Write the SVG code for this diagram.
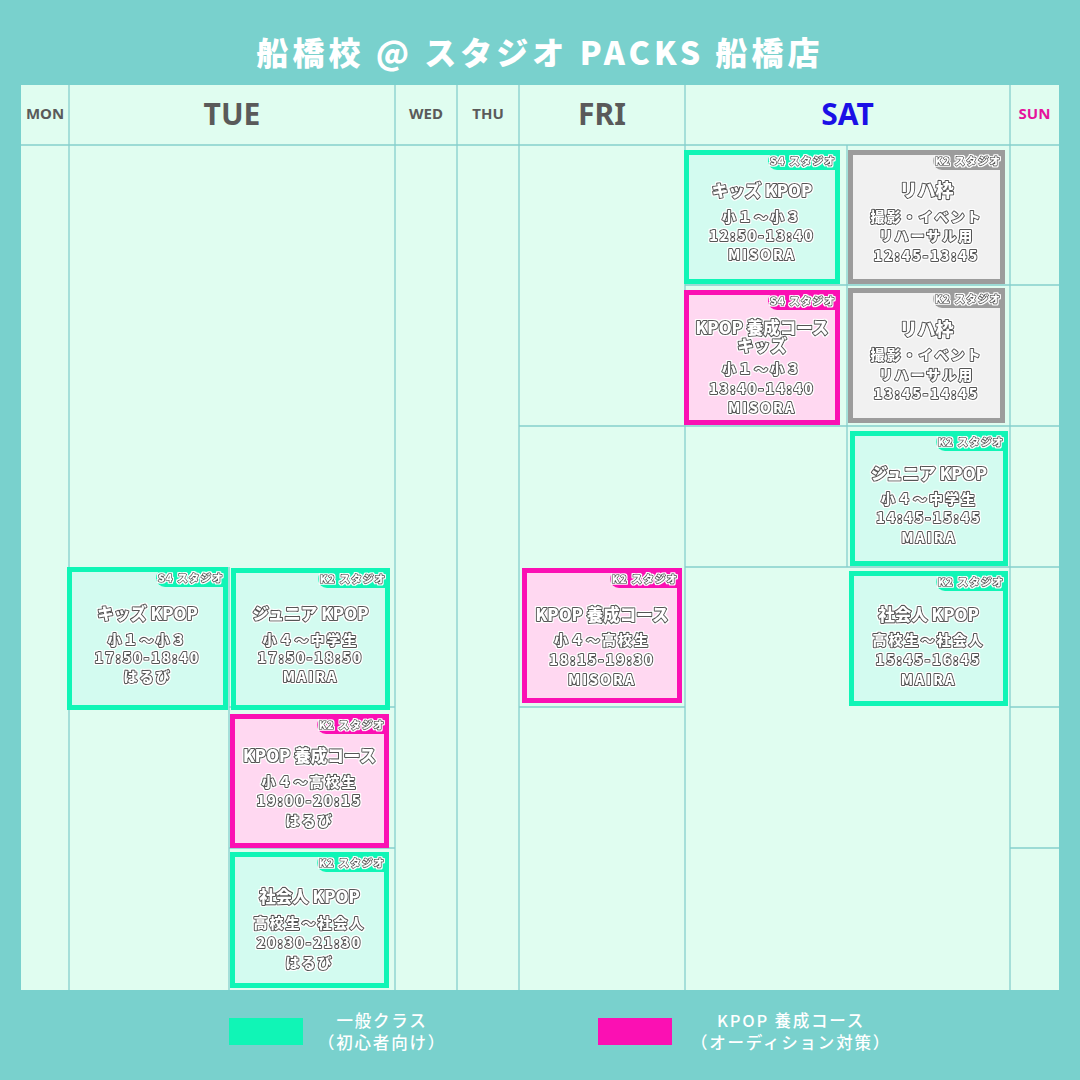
<svg xmlns="http://www.w3.org/2000/svg" width="1080" height="1080" viewBox="0 0 1080 1080">
<defs>
<style>
.bg{fill:#79d1cd}
.tbl{fill:#e0fdf0}
.grid{stroke:#86cfcc;stroke-width:1.3;fill:none}
.cg{fill:#d3fbf0;stroke:#10f5b6;stroke-width:5}
.cp{fill:#ffd8f1;stroke:#fb10b3;stroke-width:5}
.cr{fill:#f1f1f1;stroke:#9c9c9c;stroke-width:5}
.tgg{fill:#10f5b6}
.tgp{fill:#fb10b3}
.tgr{fill:#9c9c9c}
.title{font-family:"Noto Sans CJK JP","Noto Sans",sans-serif;font-weight:900;font-size:32px;fill:#fff;text-anchor:middle;letter-spacing:4px}
.day{font-family:"Noto Sans","Open Sans","Noto Sans CJK JP",sans-serif;font-weight:700;fill:#5a5a5a;text-anchor:middle}
.big{font-size:30px}
.sm{font-size:15px}
.txt text{font-family:"Noto Sans CJK JP","Noto Sans",sans-serif;font-weight:900;fill:#ffffff;stroke:#555555;stroke-width:2.2px;paint-order:stroke fill;stroke-linejoin:round;text-anchor:middle}
.ti{font-size:16.5px}
.ln{font-size:14px;letter-spacing:2px}
.tag{font-size:10.5px;letter-spacing:1.2px;stroke-width:1.7px !important}
.lg{font-family:"Noto Sans CJK JP","Noto Sans",sans-serif;font-weight:500;font-size:16.5px;fill:#fff;text-anchor:middle;letter-spacing:1.8px}
</style>
<filter id="halo" x="-5%" y="-20%" width="110%" height="140%">
<feMorphology in="SourceAlpha" operator="dilate" radius="1.1" result="d"/>
<feFlood flood-color="#ffffff"/>
<feComposite in2="d" operator="in" result="w"/>
<feMerge><feMergeNode in="w"/><feMergeNode in="SourceGraphic"/></feMerge>
</filter>
</defs>

<rect class="bg" x="0" y="0" width="1080" height="1080"/>
<text class="title" x="540" y="65">船橋校 @ スタジオ PACKS 船橋店</text>

<g id="table">
<rect class="tbl" x="21" y="85" width="1038" height="905"/>
</g>

<g id="grid">
<line class="grid" x1="21" y1="145" x2="1059" y2="145"/>
<line class="grid" x1="69" y1="85" x2="69" y2="990"/>
<line class="grid" x1="395" y1="85" x2="395" y2="990"/>
<line class="grid" x1="457" y1="85" x2="457" y2="990"/>
<line class="grid" x1="519" y1="85" x2="519" y2="990"/>
<line class="grid" x1="685" y1="85" x2="685" y2="990"/>
<line class="grid" x1="1010" y1="85" x2="1010" y2="990"/>
<line class="grid" x1="229" y1="567" x2="229" y2="990"/>
<line class="grid" x1="847" y1="145" x2="847" y2="567"/>
<line class="grid" x1="229" y1="707" x2="395" y2="707"/>
<line class="grid" x1="229" y1="848" x2="395" y2="848"/>
<line class="grid" x1="519" y1="426" x2="1059" y2="426"/>
<line class="grid" x1="519" y1="707" x2="685" y2="707"/>
<line class="grid" x1="685" y1="285" x2="1059" y2="285"/>
<line class="grid" x1="685" y1="567" x2="1059" y2="567"/>
<line class="grid" x1="1010" y1="707" x2="1059" y2="707"/>
<line class="grid" x1="1010" y1="848" x2="1059" y2="848"/>
</g>

<g id="days">
<text class="day sm" x="45" y="119">MON</text>
<text class="day big" x="232" y="125">TUE</text>
<text class="day sm" x="426" y="119">WED</text>
<text class="day sm" x="488" y="119">THU</text>
<text class="day big" x="602" y="125">FRI</text>
<text class="day big" x="847.5" y="125" style="fill:#1a10e6">SAT</text>
<text class="day sm" x="1034.5" y="119" style="fill:#e5139c">SUN</text>
</g>

<g id="sat-kids">
<rect class="cg" x="686.5" y="152.5" width="151" height="129"/>
<path class="tgg" d="M837,152 H777 A9 9 0 0 0 777,170 H837 Z"/>
<g class="txt" filter="url(#halo)">
<text class="tag" x="803" y="165">S4 スタジオ</text>
<text class="ti" x="762" y="197">キッズ KPOP</text>
<text class="ln" x="762" y="222">小１～小３</text>
<text class="ln" x="762" y="241">12:50-13:40</text>
<text class="ln" x="762" y="260">MISORA</text>
</g>
</g>

<g id="sat-reh1">
<rect class="cr" x="850.5" y="152.5" width="152" height="129"/>
<path class="tgr" d="M1002,152 H942 A9 9 0 0 0 942,170 H1002 Z"/>
<g class="txt" filter="url(#halo)">
<text class="tag" x="968" y="165">K2 スタジオ</text>
<text class="ti" x="926.5" y="197" style="font-size:18px">リハ枠</text>
<text class="ln" x="926.5" y="222">撮影・イベント</text>
<text class="ln" x="926.5" y="241">リハーサル用</text>
<text class="ln" x="926.5" y="261">12:45-13:45</text>
</g>
</g>

<g id="sat-kpop-kids">
<rect class="cp" x="686.5" y="292.5" width="151" height="130"/>
<path class="tgp" d="M837,292 H777 A9 9 0 0 0 777,310 H837 Z"/>
<g class="txt" filter="url(#halo)">
<text class="tag" x="803" y="305">S4 スタジオ</text>
<text class="ti" x="762" y="334">KPOP 養成コース<tspan x="762" dy="18">キッズ</tspan></text>
<text class="ln" x="762" y="374">小１～小３</text>
<text class="ln" x="762" y="394">13:40-14:40</text>
<text class="ln" x="762" y="413">MISORA</text>
</g>
</g>

<g id="sat-reh2">
<rect class="cr" x="850.5" y="290.5" width="152" height="130"/>
<path class="tgr" d="M1002,290 H942 A9 9 0 0 0 942,308 H1002 Z"/>
<g class="txt" filter="url(#halo)">
<text class="tag" x="968" y="303">K2 スタジオ</text>
<text class="ti" x="926.5" y="336" style="font-size:18px">リハ枠</text>
<text class="ln" x="926.5" y="360">撮影・イベント</text>
<text class="ln" x="926.5" y="380">リハーサル用</text>
<text class="ln" x="926.5" y="399">13:45-14:45</text>
</g>
</g>

<g id="sat-junior">
<rect class="cg" x="852.5" y="433.5" width="153" height="130"/>
<path class="tgg" d="M1005,433 H945 A9 9 0 0 0 945,451 H1005 Z"/>
<g class="txt" filter="url(#halo)">
<text class="tag" x="971" y="446">K2 スタジオ</text>
<text class="ti" x="929" y="480">ジュニア KPOP</text>
<text class="ln" x="929" y="504">小４～中学生</text>
<text class="ln" x="929" y="523">14:45-15:45</text>
<text class="ln" x="929" y="543">MAIRA</text>
</g>
</g>

<g id="sat-adult">
<rect class="cg" x="851.5" y="573.5" width="154" height="130"/>
<path class="tgg" d="M1005,573 H945 A9 9 0 0 0 945,591 H1005 Z"/>
<g class="txt" filter="url(#halo)">
<text class="tag" x="971" y="586">K2 スタジオ</text>
<text class="ti" x="928.5" y="621">社会人 KPOP</text>
<text class="ln" x="928.5" y="645">高校生～社会人</text>
<text class="ln" x="928.5" y="665">15:45-16:45</text>
<text class="ln" x="928.5" y="685">MAIRA</text>
</g>
</g>

<g id="fri-kpop">
<rect class="cp" x="524.5" y="570.5" width="155" height="130"/>
<path class="tgp" d="M679,570 H619 A9 9 0 0 0 619,588 H679 Z"/>
<g class="txt" filter="url(#halo)">
<text class="tag" x="645" y="583">K2 スタジオ</text>
<text class="ti" x="602" y="621">KPOP 養成コース</text>
<text class="ln" x="602" y="645">小４～高校生</text>
<text class="ln" x="602" y="665">18:15-19:30</text>
<text class="ln" x="602" y="685">MISORA</text>
</g>
</g>

<g id="tue-kids">
<rect class="cg" x="69.5" y="569.5" width="156" height="138"/>
<path class="tgg" d="M225,569 H165 A9 9 0 0 0 165,587 H225 Z"/>
<g class="txt" filter="url(#halo)">
<text class="tag" x="191" y="582">S4 スタジオ</text>
<text class="ti" x="147.5" y="620">キッズ KPOP</text>
<text class="ln" x="147.5" y="645">小１～小３</text>
<text class="ln" x="147.5" y="663">17:50-18:40</text>
<text class="ln" x="147.5" y="682">はるび</text>
</g>
</g>

<g id="tue-junior">
<rect class="cg" x="233.5" y="570.5" width="154" height="137"/>
<path class="tgg" d="M387,570 H327 A9 9 0 0 0 327,588 H387 Z"/>
<g class="txt" filter="url(#halo)">
<text class="tag" x="353" y="583">K2 スタジオ</text>
<text class="ti" x="310.5" y="620">ジュニア KPOP</text>
<text class="ln" x="310.5" y="645">小４～中学生</text>
<text class="ln" x="310.5" y="663">17:50-18:50</text>
<text class="ln" x="310.5" y="682">MAIRA</text>
</g>
</g>

<g id="tue-kpop">
<rect class="cp" x="232.5" y="716.5" width="154" height="129"/>
<path class="tgp" d="M386,716 H326 A9 9 0 0 0 326,734 H386 Z"/>
<g class="txt" filter="url(#halo)">
<text class="tag" x="352" y="729">K2 スタジオ</text>
<text class="ti" x="309.5" y="762">KPOP 養成コース</text>
<text class="ln" x="309.5" y="787">小４～高校生</text>
<text class="ln" x="309.5" y="806">19:00-20:15</text>
<text class="ln" x="309.5" y="826">はるび</text>
</g>
</g>

<g id="tue-adult">
<rect class="cg" x="232.5" y="854.5" width="154" height="131"/>
<path class="tgg" d="M386,854 H326 A9 9 0 0 0 326,872 H386 Z"/>
<g class="txt" filter="url(#halo)">
<text class="tag" x="352" y="867">K2 スタジオ</text>
<text class="ti" x="309.5" y="903">社会人 KPOP</text>
<text class="ln" x="309.5" y="928">高校生～社会人</text>
<text class="ln" x="309.5" y="948">20:30-21:30</text>
<text class="ln" x="309.5" y="968">はるび</text>
</g>
</g>

<g id="legend">
<rect x="229" y="1018" width="74" height="27" fill="#10f5b6"/>
<text class="lg" x="382" y="1027">一般クラス<tspan x="382" dy="22">（初心者向け）</tspan></text>
<rect x="598" y="1018" width="74" height="27" fill="#fb10b3"/>
<text class="lg" x="791" y="1027">KPOP 養成コース<tspan x="791" dy="22">（オーディション対策）</tspan></text>
</g>
</svg>
